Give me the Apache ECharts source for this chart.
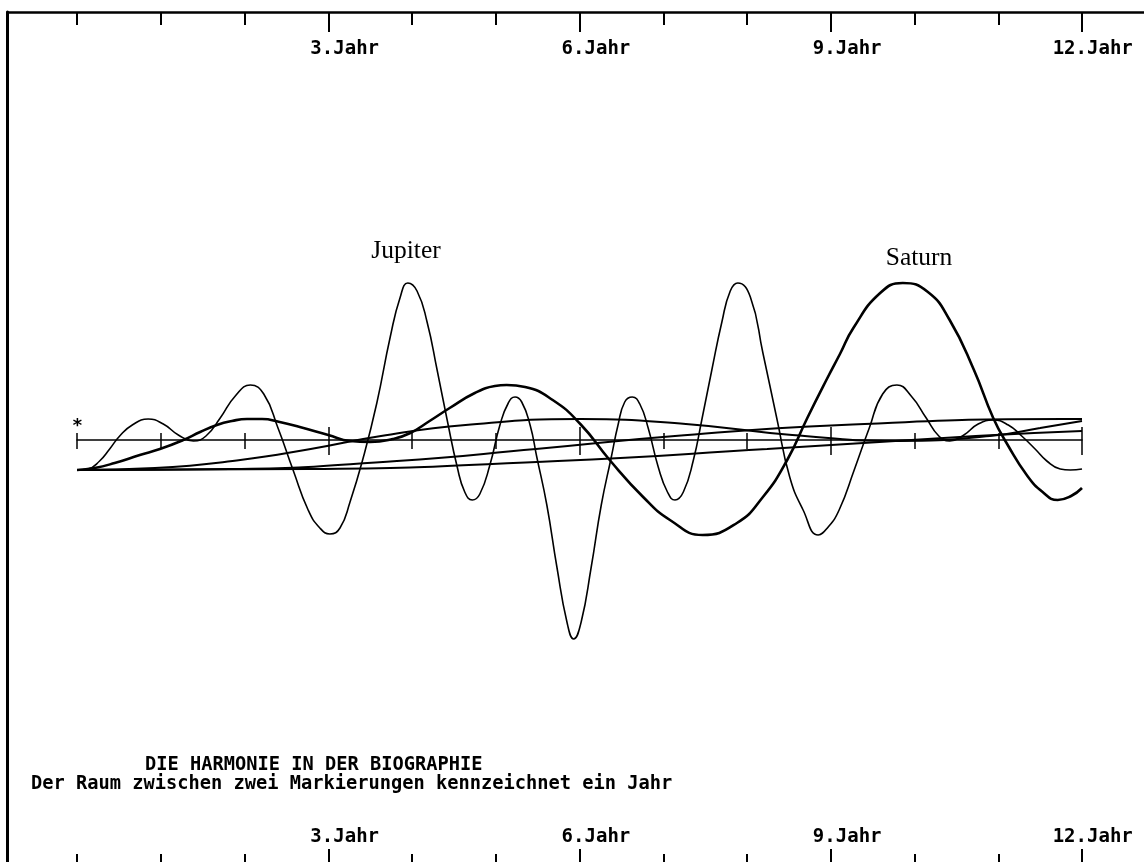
<!DOCTYPE html>
<html>
<head>
<meta charset="utf-8">
<script src="https://cdn.jsdelivr.net/npm/echarts@6/dist/echarts.min.js"></script>
<style>
html, body { margin: 0; padding: 0; background: #fff; }
#chart { width: 1144px; height: 862px; }
</style>
</head>
<body>
<div id="chart"></div>
<script>
// years 0..12, every 3rd year is labelled
const markedYears = [3, 6, 9, 12];
const labelSuffix = ".Jahr";

// [year, height]
const jupiterPoints = [
  [0, 0], [0.13, 1], [0.27, 9], [0.39, 21], [0.51, 34], [0.66, 45], [0.85, 51], [1.03, 46],
  [1.21, 35], [1.39, 29], [1.54, 34], [1.71, 52], [1.89, 74], [2.07, 85], [2.23, 76], [2.40, 42],
  [2.58, 0], [2.76, -40], [2.90, -58], [3.02, -64], [3.14, -58], [3.26, -32], [3.42, 13], [3.58, 67],
  [3.74, 133], [3.86, 173], [3.95, 187], [4.06, 179], [4.18, 148], [4.30, 100], [4.42, 50], [4.54, 3],
  [4.63, -22], [4.72, -30], [4.81, -24], [4.93, 5], [5.05, 45], [5.15, 67], [5.23, 73], [5.31, 68],
  [5.41, 45], [5.49, 13], [5.61, -35], [5.73, -97], [5.85, -152], [5.93, -169], [6.02, -152], [6.14, -97],
  [6.26, -35], [6.38, 13], [6.46, 45], [6.54, 68], [6.63, 73], [6.72, 66], [6.82, 42], [6.94, 3],
  [7.05, -22], [7.14, -30], [7.24, -22], [7.36, 10], [7.46, 50], [7.58, 100], [7.70, 148], [7.80, 179],
  [7.89, 187], [8.04, 173], [8.19, 117], [8.36, 50], [8.51, -7], [8.67, -40], [8.85, -65], [8.96, -58],
  [9.10, -40], [9.28, 0], [9.46, 42], [9.62, 76], [9.79, 85], [9.96, 74], [10.14, 52], [10.29, 34],
  [10.42, 29], [10.59, 35], [10.76, 46], [10.94, 50], [11.12, 45], [11.28, 34], [11.44, 21], [11.58, 9],
  [11.74, 1], [11.86, 0], [12, 1]
];

const saturnPoints = [
  [0, 0], [0.21, 2], [0.45, 7], [0.75, 15], [0.99, 21], [1.27, 30], [1.47, 38], [1.67, 45],
  [1.85, 49], [2.03, 51], [2.21, 51], [2.42, 48], [2.66, 43], [3.00, 35], [3.26, 29], [3.50, 28],
  [3.77, 31], [3.98, 37], [4.21, 49], [4.45, 62], [4.75, 77], [4.99, 84], [5.13, 85], [5.35, 83],
  [5.68, 70], [6.01, 46], [6.36, 10], [6.76, -27], [7.08, -50], [7.47, -65], [7.88, -53], [8.19, -27],
  [8.48, 10], [8.72, 52], [8.96, 92], [9.11, 116], [9.27, 142], [9.59, 177], [9.86, 187], [10.16, 178],
  [10.42, 150], [10.71, 100], [10.94, 52], [11.12, 24], [11.34, -5], [11.53, -22], [11.71, -30], [11.87, -26],
  [12, -18]
];

const uranusPoints = [
  [0, 0], [0.93, 2], [1.95, 10], [2.79, 21], [3.63, 34], [4.64, 45], [6.01, 51],
  [7.27, 46], [8.54, 35], [9.80, 29], [10.90, 34], [11.50, 42], [12, 49]
];

const neptunePoints = [
  [0, 0], [1.83, 1], [3.82, 9], [5.48, 21], [7.14, 34], [9.13, 45], [11.79, 51], [12, 51]
];

const plutoPoints = [
  [0, 0], [2.75, 1], [5.74, 9], [8.24, 21], [10.73, 34], [12, 39]
];

const monoFont = "DejaVu Sans Mono";
const serifFont = "Liberation Serif";

const chart = echarts.init(document.getElementById("chart"));

const tickStyle = (length, inside, width, custom) => ({
  show: true,
  inside: inside,
  length: length,
  customValues: custom,
  lineStyle: { color: "#000", width: width }
});

const yearAxis = (extra) => Object.assign({
  type: "value",
  gridIndex: 1,
  min: 0,
  max: 12,
  interval: 1,
  axisLine: { show: false, onZero: false },
  splitLine: { show: false },
  axisLabel: { show: false }
}, extra);

const tickLabel = (value) => (value < 10 ? "  " : " ") + value + labelSuffix;

const labelStyle = (margin) => ({
  show: true,
  inside: true,
  margin: margin,
  customValues: markedYears,
  formatter: tickLabel,
  color: "#000",
  fontFamily: monoFont,
  fontWeight: "bold",
  fontSize: 19,
  align: "center",
  verticalAlign: "middle",
  padding: [0, 0, 0, 10],
  hideOverlap: false
});

const curve = (name, points, width) => ({
  name: name,
  type: "line",
  xAxisIndex: 9,
  yAxisIndex: 3,
  data: points,
  smooth: true,
  showSymbol: false,
  symbol: "none",
  lineStyle: { color: "#000", width: width },
  silent: true
});

chart.setOption({
  backgroundColor: "#fff",
  animation: false,
  grid: [
    { left: 7.5, right: -10, top: 12, bottom: -10 },
    { left: 77, right: 62, top: 12, bottom: -1 },
    { left: 77, right: 62, top: 440, height: 20 },
    { left: 77, right: 62, top: 270, height: 400 }
  ],
  xAxis: [
    // frame
    { type: "value", gridIndex: 0, position: "top", min: 0, max: 1,
      axisLine: { show: true, onZero: false, lineStyle: { color: "#000", width: 2.5 } },
      axisTick: { show: false }, axisLabel: { show: false }, splitLine: { show: false } },
    // top scale
    yearAxis({ position: "top", axisTick: tickStyle(13, true, 2) }),
    yearAxis({ position: "top", axisTick: tickStyle(20, true, 2, markedYears), axisLabel: labelStyle(37) }),
    // bottom scale
    yearAxis({ position: "bottom", axisTick: tickStyle(8, true, 2) }),
    yearAxis({ position: "bottom", axisTick: tickStyle(13, true, 2, markedYears), axisLabel: labelStyle(24.5) }),
    // middle time line, ticks up and down
    yearAxis({ gridIndex: 2, position: "top",
      axisLine: { show: true, onZero: false, lineStyle: { color: "#000", width: 1.5 } },
      axisTick: tickStyle(7, false, 1.5) }),
    yearAxis({ gridIndex: 2, position: "top", axisTick: tickStyle(13, false, 1.5, markedYears) }),
    yearAxis({ gridIndex: 2, position: "top", axisTick: tickStyle(9, true, 1.5) }),
    yearAxis({ gridIndex: 2, position: "top", axisTick: tickStyle(15, true, 1.5, markedYears) }),
    // curves
    { type: "value", gridIndex: 3, min: 0, max: 12, show: false }
  ],
  yAxis: [
    { type: "value", gridIndex: 0, position: "left", min: 0, max: 1,
      axisLine: { show: true, onZero: false, lineStyle: { color: "#000", width: 3 } },
      axisTick: { show: false }, axisLabel: { show: false }, splitLine: { show: false } },
    { type: "value", gridIndex: 1, show: false },
    { type: "value", gridIndex: 2, show: false },
    { type: "value", gridIndex: 3, min: -200, max: 200, show: false }
  ],
  series: [
    curve("Pluto", plutoPoints, 2),
    curve("Neptun", neptunePoints, 2),
    curve("Uranus", uranusPoints, 2),
    curve("Saturn", saturnPoints, 2.6),
    curve("Jupiter", jupiterPoints, 1.6)
  ],
  graphic: [
    { type: "text", x: 406, y: 251, silent: true,
      style: { text: "Jupiter", fill: "#000", font: "25.5px '" + serifFont + "'", align: "center", verticalAlign: "middle" } },
    { type: "text", x: 919, y: 258.5, silent: true,
      style: { text: "Saturn", fill: "#000", font: "25.5px '" + serifFont + "'", align: "center", verticalAlign: "middle" } },
    { type: "text", x: 77.5, y: 426, silent: true,
      style: { text: "*", fill: "#000", font: "bold 18px '" + monoFont + "'", align: "center", verticalAlign: "middle" } },
    { type: "text", x: 145, y: 765, silent: true,
      style: { text: "DIE HARMONIE IN DER BIOGRAPHIE", fill: "#000", font: "bold 18.7px '" + monoFont + "'", align: "left", verticalAlign: "middle" } },
    { type: "text", x: 31, y: 784, silent: true,
      style: { text: "Der Raum zwischen zwei Markierungen kennzeichnet ein Jahr", fill: "#000", font: "bold 18.7px '" + monoFont + "'", align: "left", verticalAlign: "middle" } }
  ]
});
</script>
</body>
</html>
